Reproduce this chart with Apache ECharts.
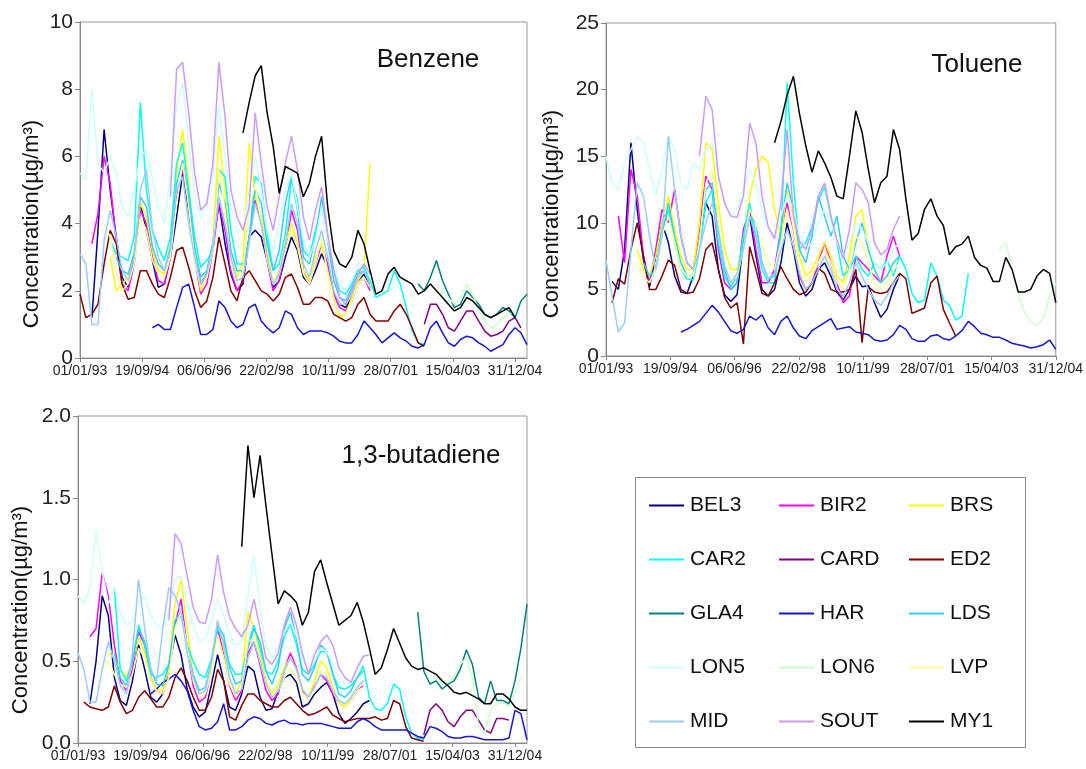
<!DOCTYPE html>
<html>
<head>
<meta charset="utf-8">
<title>Benzene, toluene and 1,3-butadiene</title>
<script src="https://cdn.jsdelivr.net/npm/echarts@6/dist/echarts.min.js"></script>
<style>
  html, body { margin: 0; padding: 0; background: #fff; }
  #chart { width: 1086px; height: 769px; }
</style>
</head>
<body>
<div id="chart"></div>
<script>
// sites in legend order, MY1 last so it sits on top
var sites = ['BEL3', 'BIR2', 'BRS', 'CAR2', 'CARD', 'ED2', 'GLA4', 'HAR', 'LDS', 'LON5', 'LON6', 'LVP', 'MID', 'SOUT', 'MY1'];

// x axis: days since 01/01/93, one tick every 626 days
var TICK_DAYS = 626;
var tickLabels = ['01/01/93', '19/09/94', '06/06/96', '22/02/98', '10/11/99', '28/07/01', '15/04/03', '31/12/04'];

// readings are two-monthly; the start month of each record is given below

// ---- benzene (ug/m3)
var benzeneStart = { BEL3: '1993-05', BIR2: '1993-05', BRS: '1993-11', CAR2: '1993-11', CARD: '2002-07', ED2: '1993-01',
  GLA4: '2002-05', HAR: '1995-01', LDS: '1994-01', LON5: '1993-01', LON6: '2002-11', LVP: '1993-09', MID: '1993-01',
  SOUT: '1995-07', MY1: '1997-07' };
var benzeneBEL3 = [1.2, 3.8, 6.8, 5.0, 3.6, 2.4, 2.1, 3.0, 4.6, 3.8, 2.9, 2.1, 2.2, 3.0, 4.2, 5.5, 4.4, 3.1, 2.2, 2.5, 3.4, 4.6, 3.4, 2.5, 2.0, 2.2, 3.6, 3.8, 3.6, 2.9, 2.1, 2.3, 3.0, 3.6, 3.2, 2.4, 2.2, 2.6, 3.1, 2.7, 1.9, 1.6, 1.5, 1.8, 2.3, 2.5, 2.1];
var benzeneBIR2 = [3.4, 4.3, 6.0, 5.2, 3.5, 2.2, 2.0, 2.8, 4.4, 4.0, 3.0, 2.3, 2.2, 3.0, 4.8, 5.6, 4.6, 3.0, 1.9, 2.2, 3.2, 4.6, 3.8, 2.6, 2.0, 2.3, 3.6, 4.7, 4.0, 2.9, 2.0, 2.3, 3.2, 4.4, 3.8, 2.6, 2.2, 2.8, 3.4, 2.8, 1.9, 1.5, 1.4, 1.7, 2.2, 2.4, 2.0];
var benzeneBRS = [3.0, 2.0, 2.2, 2.4, 3.2, 4.6, 4.2, 3.2, 2.6, 2.5, 3.4, 5.5, 6.8, 5.2, 3.2, 2.0, 2.4, 3.4, 6.6, 5.0, 3.0, 2.4, 2.9, 6.4, 4.8, 4.2, 3.2, 2.2, 2.6, 3.4, 4.0, 3.4, 2.6, 2.3, 3.0, 3.4, 2.6, 1.8, 1.2, 1.3, 1.8, 2.3, 2.6, 5.8];
var benzeneCAR2 = [3.5, 3.1, 3.0, 2.9, 3.6, 7.6, 5.0, 3.8, 3.3, 2.9, 3.6, 5.8, 6.4, 5.0, 3.6, 2.7, 2.9, 3.2, 5.6, 5.4, 3.8, 2.8, 2.8, 3.5, 5.4, 5.2, 3.7, 2.6, 2.8, 3.7, 5.3, 4.7, 3.2, 3.0, 3.8, 4.5, 3.6, 2.6, 2.0, 1.9, 2.2, 2.6, 2.7, 2.3, 1.8, 1.9, 2.0, 2.6, 2.2, 1.5, 0.8, 0.45, 0.4];
var benzeneCARD = [1.0, 1.6, 1.6, 1.3, 0.9, 0.8, 1.1, 1.4, 1.4, 1.1, 0.8, 0.65, 0.7, 0.8, 1.1, 1.2, 0.9];
var benzeneED2 = [1.9, 1.2, 1.3, 1.6, 2.8, 3.8, 3.4, 2.2, 1.75, 1.8, 2.6, 2.6, 2.2, 1.9, 1.8, 2.4, 3.2, 3.3, 2.7, 2.0, 1.5, 1.7, 2.4, 3.6, 2.8, 2.0, 1.7, 2.4, 2.6, 2.3, 2.0, 1.9, 1.7, 1.9, 2.4, 2.5, 2.1, 1.6, 1.6, 1.8, 1.8, 1.7, 1.3, 1.2, 1.1, 1.2, 1.6, 1.8, 1.3, 1.1, 1.1, 1.1, 1.4, 1.6, 1.3, 0.9, 0.45, 0.35];
var benzeneGLA4 = [2.2, 2.0, 2.4, 2.9, 2.3, 1.9, 1.5, 1.6, 2.0, 1.8, 1.6, 1.3, 1.2, 1.3, 1.5, 1.4, 1.2, 1.7, 1.9];
var benzeneHAR = [0.9, 1.0, 0.85, 0.85, 1.5, 2.1, 2.2, 1.5, 0.7, 0.7, 0.85, 1.7, 1.5, 1.1, 0.9, 1.0, 1.5, 1.6, 1.1, 0.9, 0.75, 0.9, 1.4, 1.3, 0.9, 0.7, 0.8, 0.8, 0.8, 0.75, 0.65, 0.5, 0.45, 0.45, 0.7, 1.1, 0.9, 0.7, 0.45, 0.6, 0.75, 0.6, 0.5, 0.35, 0.3, 0.4, 0.9, 1.1, 0.75, 0.45, 0.35, 0.55, 0.65, 0.6, 0.45, 0.35, 0.2, 0.3, 0.4, 0.7, 0.9, 0.75, 0.4];
var benzeneLDS = [3.0, 2.6, 2.5, 3.1, 4.8, 4.5, 3.3, 2.8, 2.6, 3.3, 5.2, 5.9, 4.8, 3.3, 2.4, 2.6, 3.4, 5.2, 4.6, 3.2, 2.6, 2.6, 3.6, 5.0, 4.6, 3.4, 2.6, 3.2, 4.6, 5.4, 4.4, 3.0, 2.8, 3.6, 4.8, 3.5, 2.3, 1.8, 1.7, 2.1, 2.5, 2.6, 2.2];
var benzeneLON5 = [5.5, 5.3, 8.0, 5.8, 5.5, 6.0, 5.5, 4.5, 4.2, 5.0, 6.0, 6.2, 5.3, 4.5, 4.0, 5.5, 7.5, 8.2, 6.5, 4.8, 4.2, 4.5, 5.5, 7.5, 6.0, 4.5, 3.8, 3.8, 5.0, 6.0, 5.0, 3.8, 3.2, 4.0, 5.0, 5.5, 4.5, 3.5, 3.0, 3.5, 4.5, 3.5, 2.8, 2.2, 2.0, 2.3, 2.8, 3.0];
var benzeneLON6 = [2.2, 2.0, 1.8, 1.6, 1.8, 2.2, 1.9, 1.4, 1.1, 0.9, 1.0, 1.2, 1.3, 1.4];
var benzeneLVP = [4.0, 3.6, 2.6, 2.0, 2.2, 2.8, 4.2, 3.8, 2.9, 2.5, 2.4, 3.0, 4.6, 5.8, 4.5, 2.9, 2.1, 2.4, 3.2, 5.6, 4.4, 2.8, 2.2, 2.6, 4.4, 5.2, 4.0, 2.9, 2.2, 2.5, 3.2, 3.8, 3.3, 2.5, 2.2, 2.8, 3.6, 2.5, 1.7, 1.3, 1.3, 1.7, 2.2, 2.4, 2.1];
var benzeneMID = [3.1, 2.8, 1.0, 1.0, 3.5, 4.4, 3.6, 2.6, 2.3, 3.0, 5.0, 5.6, 3.8, 3.0, 2.6, 3.2, 5.0, 5.4, 4.0, 3.0, 2.2, 2.5, 3.3, 4.8, 4.0, 3.0, 2.3, 2.4, 3.4, 4.6, 4.0, 3.0, 2.2, 2.5, 3.4, 4.6, 4.0, 2.8, 2.4, 3.2, 3.8, 3.0, 2.0, 1.6, 1.6, 1.9, 2.4, 2.6, 2.2];
var benzeneSOUT = [4.8, 8.6, 8.8, 7.3, 5.5, 4.4, 4.6, 5.8, 8.8, 7.2, 5.0, 4.2, 3.8, 4.5, 7.3, 5.8, 4.5, 3.8, 4.8, 5.8, 6.6, 5.6, 4.2, 3.5, 4.4, 5.1, 3.7, 2.6, 1.8, 1.6, 2.0, 2.5, 2.8, 2.5];
var benzeneMY1 = [6.7, 7.6, 8.4, 8.7, 7.3, 6.3, 4.9, 5.7, 5.6, 5.5, 4.8, 5.2, 6.0, 6.6, 4.5, 3.2, 2.8, 2.7, 3.0, 3.8, 3.4, 2.6, 1.9, 2.0, 2.5, 2.7, 2.4, 2.3, 2.2, 1.9, 2.0, 2.2, 2.0, 1.8, 1.6, 1.4, 1.5, 1.8, 1.7, 1.5, 1.3, 1.2, 1.3, 1.4, 1.5, 1.2];

// ---- toluene (ug/m3)
var tolueneStart = { BEL3: '1993-03', BIR2: '1993-05', BRS: '1993-11', CAR2: '1994-03', ED2: '1993-03', HAR: '1995-01',
  LDS: '1994-01', LON5: '1993-01', LON6: '2003-07', LVP: '1993-11', MID: '1993-01', SOUT: '1995-07', MY1: '1997-07' };
var tolueneBEL3 = [5.6, 5.0, 8.0, 16.0, 11.0, 7.2, 5.2, 7.5, 10.0, 8.5, 6.0, 4.8, 4.7, 6.0, 8.5, 11.5, 10.5, 6.5, 4.6, 4.1, 4.6, 8.5, 10.5, 7.5, 5.0, 4.5, 5.0, 7.0, 10.0, 8.0, 5.5, 4.5, 5.0, 6.5, 7.0, 6.0, 4.8, 4.2, 5.0, 6.0, 5.2, 5.3, 4.0, 2.9, 3.5, 5.0, 6.1];
var tolueneBIR2 = [10.5, 7.0, 14.0, 12.0, 7.5, 5.5, 8.0, 11.0, 10.0, 12.5, 9.0, 7.0, 6.5, 9.5, 13.5, 12.5, 8.0, 5.5, 5.0, 5.5, 9.5, 11.0, 8.0, 5.5, 5.5, 6.5, 9.5, 11.5, 9.0, 6.0, 5.0, 5.5, 7.0, 8.5, 7.0, 5.5, 4.0, 4.5, 7.5, 7.0, 6.5, 6.0, 5.5, 7.5, 9.0, 7.5];
var tolueneBRS = [8.0, 6.5, 6.0, 7.5, 10.0, 12.0, 9.5, 7.5, 6.5, 6.5, 10.0, 16.0, 15.5, 11.5, 8.0, 6.5, 6.5, 8.5, 12.0, 14.0, 15.0, 14.5, 11.0, 9.0, 12.5, 10.5, 7.5, 6.0, 6.5, 7.5, 8.5, 7.5, 6.0, 5.5, 7.5, 10.5, 11.0, 8.0, 6.5, 5.5, 6.0, 7.0, 7.5];
var tolueneCAR2 = [5.5, 6.5, 9.5, 11.0, 8.5, 6.5, 5.8, 5.7, 8.0, 11.5, 12.5, 8.5, 6.0, 5.2, 6.0, 9.0, 11.5, 9.0, 6.5, 5.5, 5.5, 9.0, 20.5, 13.0, 8.0, 8.5, 9.7, 11.7, 12.7, 10.5, 8.5, 6.0, 6.5, 7.5, 6.5, 6.0, 7.0, 6.5, 7.2, 6.0, 7.5, 6.5, 4.7, 4.0, 4.2, 7.0, 6.0, 4.2, 3.8, 2.7, 3.0, 6.2];
var tolueneED2 = [4.0, 5.8, 5.4, 8.0, 10.0, 7.5, 5.0, 5.0, 6.0, 7.2, 6.8, 5.0, 4.7, 4.8, 5.8, 8.0, 8.5, 6.5, 4.4, 3.6, 4.0, 0.9, 8.2, 6.5, 4.7, 4.5, 5.5, 6.7, 5.8, 5.0, 4.6, 4.8, 5.5, 6.6, 6.2, 5.0, 4.8, 4.8, 5.0, 6.5, 1.0, 5.2, 4.8, 4.7, 4.8, 5.5, 6.2, 5.8, 3.2, 3.4, 3.6, 5.5, 6.0, 3.5, 2.5, 1.5];
var tolueneHAR = [1.8, 2.0, 2.3, 2.6, 3.2, 3.8, 3.3, 2.6, 1.9, 1.7, 2.0, 3.0, 2.7, 3.1, 2.1, 1.6, 2.6, 3.0, 2.1, 1.5, 1.3, 1.9, 2.2, 2.5, 2.8, 2.0, 2.1, 2.2, 1.8, 1.7, 1.6, 1.2, 1.1, 1.2, 1.6, 2.3, 2.0, 1.3, 1.1, 1.1, 1.5, 1.6, 1.3, 1.2, 1.5, 1.9, 2.6, 2.2, 1.7, 1.6, 1.4, 1.4, 1.2, 0.95, 0.85, 0.75, 0.6, 0.7, 0.85, 1.2, 0.5];
var tolueneLDS = [7.0, 6.0, 6.5, 9.0, 11.5, 9.0, 7.0, 6.0, 6.0, 8.5, 12.5, 13.0, 9.5, 6.5, 5.0, 5.5, 8.5, 10.5, 10.0, 7.0, 5.8, 6.0, 9.5, 13.0, 11.0, 8.0, 7.0, 9.0, 12.0, 10.5, 9.0, 10.5, 7.5, 6.5, 8.5, 10.0, 8.0, 6.5, 5.5, 6.0, 7.0, 7.5];
var tolueneLON5 = [15.0, 13.0, 12.5, 14.5, 15.5, 16.5, 16.0, 14.0, 12.0, 14.0, 16.5, 15.5, 13.0, 12.5, 14.5, 14.0, 15.5, 16.0, 13.5, 11.5, 10.5, 11.0, 12.5, 14.0, 13.0, 11.0, 9.5, 9.0, 10.5, 12.0, 11.0, 9.0, 8.0, 8.5, 10.0, 11.0, 10.0, 8.5, 7.5, 8.5, 10.0, 9.5, 8.5, 7.0, 6.5, 7.0, 8.0, 8.5];
var tolueneLON6 = [8.0, 8.5, 6.5, 4.6, 3.3, 2.6, 2.3, 2.8, 4.5, 5.5];
var tolueneLVP = [7.0, 6.0, 5.5, 6.5, 9.0, 10.5, 8.5, 6.5, 6.0, 6.0, 8.5, 13.0, 14.0, 10.0, 7.0, 5.5, 6.0, 8.0, 11.0, 10.0, 8.5, 7.0, 6.5, 8.5, 11.0, 9.0, 6.5, 5.5, 6.0, 7.0, 8.0, 7.0, 5.5, 5.0, 6.5, 9.0, 8.5, 7.0, 5.5, 5.0, 5.5, 6.5, 7.0];
var tolueneMID = [7.2, 4.5, 1.8, 2.5, 8.0, 13.0, 12.0, 9.0, 6.5, 9.0, 16.5, 12.5, 9.0, 7.0, 6.5, 8.0, 10.0, 11.5, 9.5, 6.8, 5.5, 6.2, 8.0, 10.5, 9.0, 7.0, 5.8, 6.2, 8.0, 9.5, 8.2, 6.2, 5.0, 5.5, 6.5, 7.5, 6.5, 5.0, 4.5, 5.5, 7.0, 6.0, 5.0, 4.2, 3.8, 4.5, 5.5, 6.0];
var tolueneSOUT = [15.0, 19.5, 18.5, 13.5, 11.5, 10.5, 10.4, 12.0, 17.5, 16.0, 12.0, 9.7, 8.8, 11.5, 17.0, 10.5, 8.6, 8.0, 9.5, 12.0, 13.0, 10.5, 8.7, 7.3, 9.5, 13.0, 12.5, 11.5, 8.5, 7.6, 8.0, 9.5, 10.5];
var tolueneMY1 = [16.0, 17.6, 19.6, 21.0, 18.2, 15.8, 13.8, 15.4, 14.5, 13.4, 12.0, 11.8, 15.0, 18.4, 16.8, 14.0, 11.5, 13.0, 13.5, 17.0, 15.5, 11.8, 8.7, 9.2, 11.0, 11.8, 10.5, 9.8, 7.6, 8.2, 8.4, 9.0, 7.4, 6.8, 6.6, 5.6, 5.6, 7.4, 6.5, 4.8, 4.8, 5.0, 6.0, 6.5, 6.2, 4.0];

// ---- 1,3-butadiene (ug/m3)
var butadieneStart = { BEL3: '1993-05', BIR2: '1993-05', BRS: '1993-11', CAR2: '1994-01', CARD: '2002-07', ED2: '1993-03',
  GLA4: '2002-05', HAR: '1995-01', LDS: '1994-01', LON5: '1993-01', LON6: '2002-09', LVP: '1993-09', MID: '1993-01',
  SOUT: '1995-07', MY1: '1997-07' };
var butadieneBEL3 = [0.24, 0.50, 0.90, 0.78, 0.40, 0.26, 0.23, 0.38, 0.60, 0.45, 0.28, 0.25, 0.30, 0.45, 0.66, 0.54, 0.33, 0.22, 0.16, 0.19, 0.36, 0.54, 0.38, 0.22, 0.20, 0.30, 0.47, 0.44, 0.28, 0.20, 0.21, 0.32, 0.40, 0.42, 0.37, 0.22, 0.24, 0.30, 0.34, 0.37, 0.30, 0.18, 0.12, 0.15, 0.19, 0.24, 0.26];
var butadieneBIR2 = [0.65, 0.70, 1.04, 0.90, 0.60, 0.38, 0.32, 0.45, 0.68, 0.60, 0.40, 0.32, 0.30, 0.45, 0.72, 0.88, 0.58, 0.35, 0.25, 0.28, 0.45, 0.70, 0.55, 0.35, 0.26, 0.32, 0.55, 0.62, 0.48, 0.32, 0.26, 0.30, 0.45, 0.55, 0.46, 0.32, 0.28, 0.35, 0.42, 0.38, 0.30, 0.24, 0.22, 0.26, 0.32, 0.35];
var butadieneBRS = [0.55, 0.52, 0.45, 0.40, 0.50, 0.65, 0.55, 0.40, 0.33, 0.32, 0.45, 0.85, 1.00, 0.70, 0.42, 0.30, 0.32, 0.48, 0.75, 0.58, 0.38, 0.30, 0.38, 0.80, 0.70, 0.55, 0.38, 0.30, 0.36, 0.46, 0.52, 0.45, 0.33, 0.28, 0.38, 0.50, 0.46, 0.34, 0.25, 0.22, 0.28, 0.34, 0.38];
var butadieneCAR2 = [0.95, 0.45, 0.38, 0.50, 0.72, 0.60, 0.42, 0.40, 0.42, 0.48, 0.72, 0.78, 0.60, 0.50, 0.42, 0.40, 0.52, 0.70, 0.62, 0.48, 0.42, 0.42, 0.60, 0.72, 0.58, 0.44, 0.42, 0.50, 0.65, 0.73, 0.60, 0.45, 0.42, 0.48, 0.56, 0.56, 0.42, 0.34, 0.33, 0.35, 0.40, 0.47, 0.28, 0.21, 0.20, 0.24, 0.36, 0.33, 0.16, 0.06, 0.03, 0.02];
var butadieneCARD = [0.05, 0.20, 0.24, 0.20, 0.13, 0.10, 0.16, 0.20, 0.20, 0.14, 0.08, 0.06, 0.15, 0.15, 0.14];
var butadieneED2 = [0.25, 0.22, 0.21, 0.20, 0.22, 0.35, 0.25, 0.18, 0.20, 0.28, 0.32, 0.27, 0.22, 0.22, 0.28, 0.40, 0.46, 0.38, 0.28, 0.20, 0.20, 0.28, 0.45, 0.38, 0.16, 0.14, 0.23, 0.30, 0.30, 0.26, 0.24, 0.22, 0.22, 0.26, 0.28, 0.24, 0.20, 0.17, 0.18, 0.20, 0.22, 0.17, 0.15, 0.13, 0.14, 0.15, 0.15, 0.15, 0.16, 0.14, 0.15, 0.26, 0.24, 0.10, 0.03, 0.02, 0.01];
var butadieneGLA4 = [0.80, 0.44, 0.36, 0.38, 0.33, 0.36, 0.38, 0.45, 0.57, 0.48, 0.28, 0.24, 0.38, 0.26, 0.26, 0.24, 0.38, 0.58, 0.85];
var butadieneHAR = [0.30, 0.33, 0.37, 0.39, 0.42, 0.38, 0.32, 0.20, 0.10, 0.08, 0.09, 0.13, 0.24, 0.08, 0.08, 0.10, 0.14, 0.16, 0.15, 0.12, 0.11, 0.13, 0.14, 0.12, 0.12, 0.11, 0.12, 0.12, 0.12, 0.11, 0.10, 0.09, 0.09, 0.09, 0.13, 0.15, 0.13, 0.10, 0.08, 0.08, 0.08, 0.08, 0.08, 0.06, 0.04, 0.03, 0.10, 0.09, 0.07, 0.04, 0.03, 0.03, 0.04, 0.04, 0.03, 0.02, 0.02, 0.02, 0.02, 0.03, 0.20, 0.18, 0.02];
var butadieneLDS = [0.55, 0.40, 0.35, 0.50, 0.70, 0.62, 0.45, 0.36, 0.35, 0.48, 0.75, 0.80, 0.58, 0.42, 0.32, 0.34, 0.50, 0.72, 0.66, 0.46, 0.36, 0.38, 0.58, 0.70, 0.62, 0.44, 0.36, 0.46, 0.70, 0.80, 0.64, 0.42, 0.38, 0.46, 0.60, 0.56, 0.42, 0.30, 0.28, 0.32, 0.40, 0.44];
var butadieneLON5 = [0.90, 0.85, 0.95, 1.30, 1.05, 0.85, 0.95, 0.80, 0.72, 0.75, 0.85, 0.90, 0.78, 0.72, 0.70, 0.80, 1.00, 1.02, 0.85, 0.72, 0.62, 0.64, 0.75, 0.88, 0.78, 0.66, 0.60, 0.62, 0.90, 1.15, 0.82, 0.60, 0.52, 0.58, 0.68, 0.74, 0.66, 0.52, 0.44, 0.50, 0.58, 0.56, 0.48, 0.40, 0.36, 0.38, 0.46, 0.52];
var butadieneLON6 = [0.42, 0.40, 0.36, 0.37, 0.40, 0.48, 0.52, 0.40, 0.10, 0.06, 0.20, 0.24, 0.25, 0.22, 0.30, 0.40];
var butadieneLVP = [0.45, 0.50, 0.42, 0.36, 0.34, 0.42, 0.58, 0.52, 0.38, 0.32, 0.30, 0.40, 0.70, 0.80, 0.58, 0.38, 0.28, 0.30, 0.44, 0.66, 0.52, 0.36, 0.28, 0.34, 0.62, 0.64, 0.50, 0.36, 0.28, 0.32, 0.40, 0.46, 0.40, 0.30, 0.26, 0.34, 0.44, 0.42, 0.32, 0.24, 0.21, 0.26, 0.32, 0.34];
var butadieneMID = [0.55, 0.45, 0.25, 0.25, 0.45, 0.62, 0.50, 0.35, 0.30, 0.55, 1.00, 0.70, 0.45, 0.38, 0.70, 0.95, 0.90, 0.80, 0.55, 0.40, 0.30, 0.32, 0.50, 0.75, 0.60, 0.40, 0.30, 0.33, 0.52, 0.62, 0.50, 0.36, 0.28, 0.32, 0.44, 0.52, 0.45, 0.33, 0.28, 0.34, 0.42, 0.40, 0.32, 0.26, 0.24, 0.28, 0.34, 0.38];
var butadieneSOUT = [0.75, 1.28, 1.22, 1.02, 0.83, 0.74, 0.73, 0.88, 1.15, 0.92, 0.77, 0.70, 0.65, 0.72, 0.88, 0.70, 0.52, 0.48, 0.55, 0.72, 0.83, 0.72, 0.55, 0.42, 0.54, 0.62, 0.66, 0.60, 0.46, 0.40, 0.37, 0.46, 0.53, 0.54];
var butadieneMY1 = [1.20, 1.82, 1.50, 1.76, 1.45, 1.15, 0.85, 0.93, 0.90, 0.86, 0.72, 0.80, 1.05, 1.12, 0.98, 0.85, 0.72, 0.75, 0.78, 0.86, 0.74, 0.58, 0.42, 0.46, 0.57, 0.70, 0.61, 0.52, 0.47, 0.45, 0.46, 0.44, 0.42, 0.38, 0.35, 0.31, 0.30, 0.31, 0.29, 0.27, 0.24, 0.24, 0.30, 0.30, 0.27, 0.22, 0.20, 0.20];

var siteColors = {
  BEL3: '#000080', BIR2: '#ff00ff', BRS: '#ffff00', CAR2: '#00ffff', CARD: '#800080', ED2: '#800000',
  GLA4: '#008080', HAR: '#1515d8', LDS: '#33ccff', LON5: '#ccffff', LON6: '#ccffcc', LVP: '#ffff99',
  MID: '#99ccff', SOUT: '#cc99ff', MY1: '#000000'
};

var FONT = 'Liberation Sans, Arial, Helvetica, sans-serif';
var DAY0 = Date.UTC(1993, 0, 1);
var Y_NAME = 'Concentration(µg/m³)';

function toPoints(start, values) {
  var y = +start.slice(0, 4), m = +start.slice(5, 7) - 1;
  return values.map(function (v, i) {
    return [(Date.UTC(y, m + 2 * i, 1) - DAY0) / 86400000, v];
  });
}

function dayLabel(v) {
  var i = Math.round(v / TICK_DAYS);
  return (Math.abs(v - i * TICK_DAYS) < 0.5 && i < tickLabels.length) ? tickLabels[i] : '';
}

var panels = [
  { key: 'benzene', starts: benzeneStart, yMax: 10, yStep: 2, xMax: 4503, digits: 0 },
  { key: 'toluene', starts: tolueneStart, yMax: 25, yStep: 5, xMax: 4382, digits: 0 },
  { key: 'butadiene', starts: butadieneStart, yMax: 2, yStep: 0.5, xMax: 4503, digits: 1 }
];

var series = [];
panels.forEach(function (p, pi) {
  sites.forEach(function (s) {
    var values = window[p.key + s];
    if (!values) return;
    series.push({
      type: 'line', name: s, xAxisIndex: pi, yAxisIndex: pi,
      data: toPoints(p.starts[s], values),
      symbol: 'none', showSymbol: false, silent: true,
      lineStyle: { width: 1.5, color: siteColors[s] },
      itemStyle: { color: siteColors[s] }
    });
  });
});

var legendCols = [
  ['BEL3', 'CAR2', 'GLA4', 'LON5', 'MID'],
  ['BIR2', 'CARD', 'HAR', 'LON6', 'SOUT'],
  ['BRS', 'ED2', 'LDS', 'LVP', 'MY1']
];

function label(text, x, y, size, rotate) {
  return {
    type: 'text', x: x, y: y, rotation: rotate ? Math.PI / 2 : 0,
    style: { text: text, fontSize: size, fontFamily: FONT, fill: '#111', align: 'center', verticalAlign: 'middle' }
  };
}

var chart = echarts.init(document.getElementById('chart'));
chart.setOption({
  backgroundColor: '#fff',
  animation: false,
  grid: [
    { left: 80, top: 22, width: 447, height: 336 },
    { left: 606, top: 23, width: 452, height: 333 },
    { left: 78, top: 416, width: 449, height: 327 }
  ].map(function (g) {
    g.show = true; g.borderColor = '#999'; g.borderWidth = 1; g.containLabel = false;
    return g;
  }),
  xAxis: panels.map(function (p, pi) {
    return {
      type: 'value', gridIndex: pi, min: 0, max: p.xMax, interval: TICK_DAYS,
      axisLine: { show: true, lineStyle: { color: '#888' } },
      axisTick: { show: true, length: 4, lineStyle: { color: '#888' } },
      axisLabel: { formatter: dayLabel, fontSize: 14, fontFamily: FONT, color: '#222', margin: 6, showMaxLabel: pi === 1 },
      splitLine: { show: false }
    };
  }),
  yAxis: panels.map(function (p, pi) {
    return {
      type: 'value', gridIndex: pi, min: 0, max: p.yMax, interval: p.yStep,
      axisLine: { show: true, lineStyle: { color: '#888' } },
      axisTick: { show: true, length: 5, lineStyle: { color: '#888' } },
      axisLabel: {
        fontSize: 21, fontFamily: FONT, color: '#222', margin: 7,
        formatter: function (v) { return v.toFixed(p.digits); }
      },
      splitLine: { show: false }
    };
  }),
  legend: legendCols.map(function (col, ci) {
    return {
      orient: 'vertical', left: [649, 779, 909][ci], top: 495, padding: 0,
      itemGap: 33, itemWidth: 35, itemHeight: 2, icon: 'rect', selectedMode: false,
      data: col,
      textStyle: { fontSize: 21, fontFamily: FONT, color: '#111', padding: [0, 0, 0, 1] }
    };
  }),
  graphic: [
    { type: 'rect', shape: { x: 635.5, y: 477.5, width: 390, height: 270 }, style: { fill: 'none', stroke: '#888', lineWidth: 1 } },
    label('Benzene', 428, 60, 26),
    label('Toluene', 977, 65, 26),
    label('1,3-butadiene', 421, 456, 26),
    label(Y_NAME, 32, 224, 22, true),
    label(Y_NAME, 552, 214, 22, true),
    label(Y_NAME, 21, 610, 22, true)
  ],
  series: series
});
</script>
</body>
</html>
